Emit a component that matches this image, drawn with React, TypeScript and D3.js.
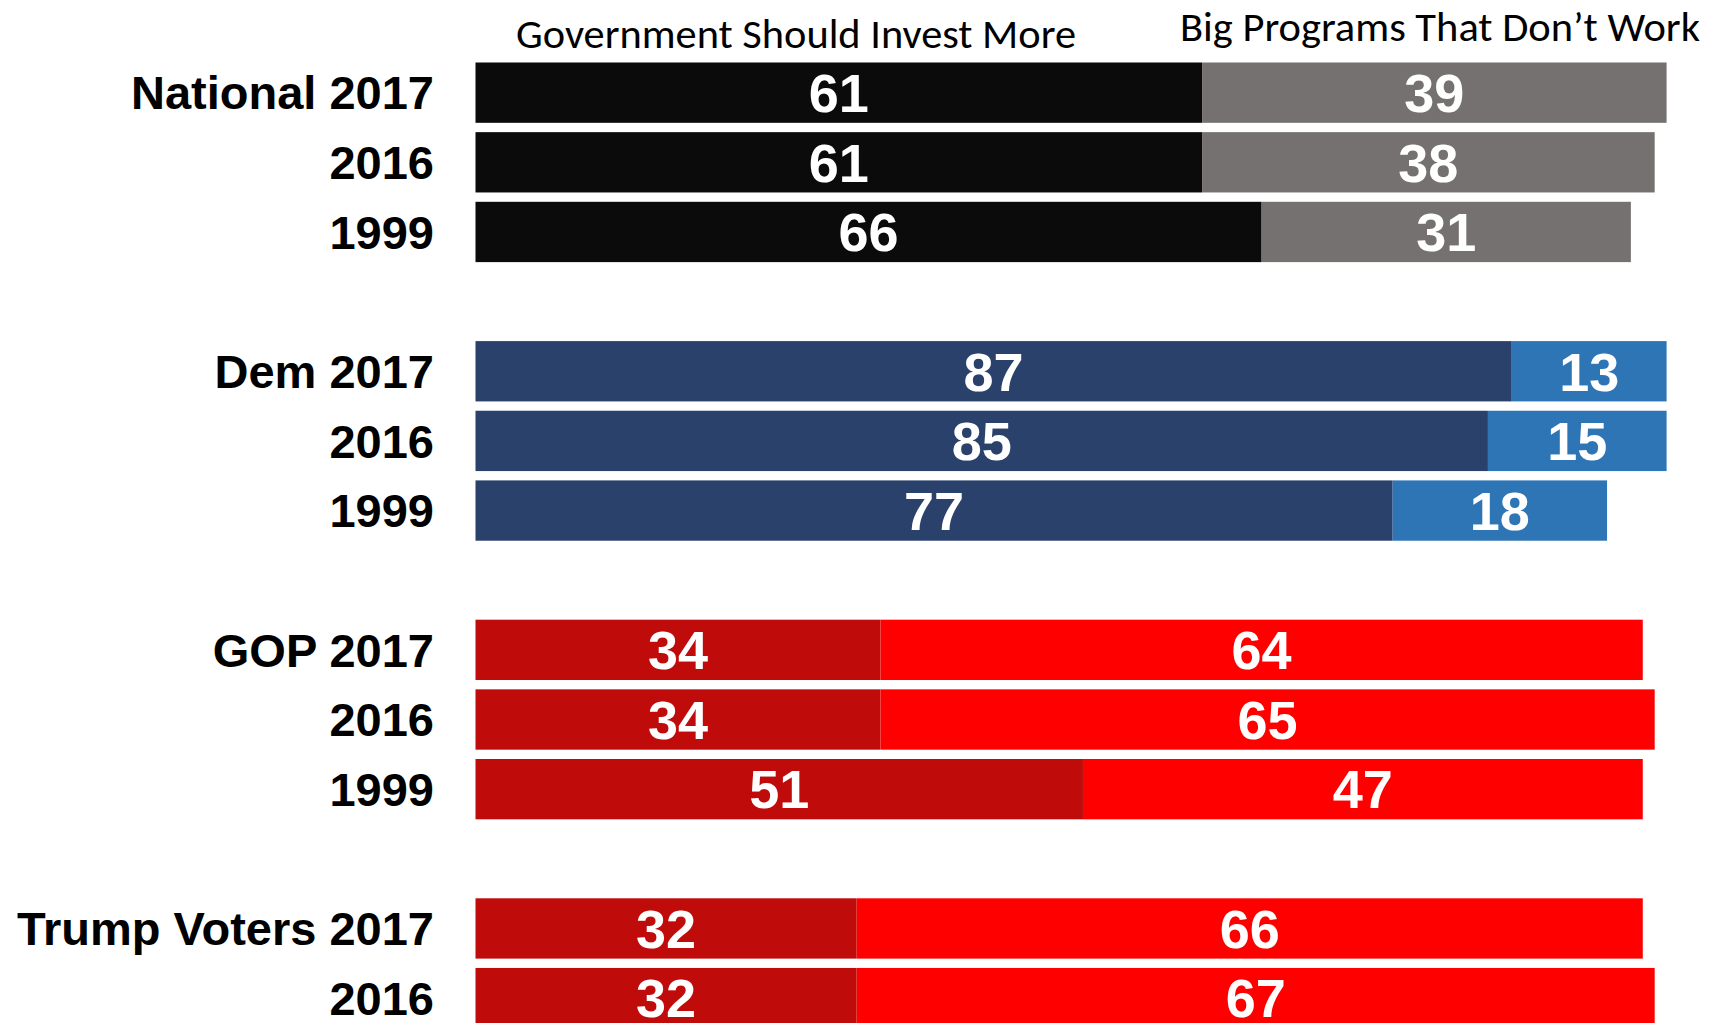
import * as d3 from 'd3';

// rows, top to bottom
const rowLabels = [
  'National 2017', '2016', '1999',
  'Dem 2017', '2016', '1999',
  'GOP 2017', '2016', '1999',
  'Trump Voters 2017', '2016',
];
const rowGroup = [0, 0, 0, 1, 1, 1, 2, 2, 2, 3, 3];

// Government should invest more / big programs that don't work (%)
const investMore = [61, 61, 66, 87, 85, 77, 34, 34, 51, 32, 32];
const bigPrograms = [39, 38, 31, 13, 15, 18, 64, 65, 47, 66, 67];

const headers = ['Government Should Invest More', 'Big Programs That Don\u2019t Work'];

// colours per group: [invest, programs]
const groupColors = [
  ['#0b0b0b', '#767171'],
  ['#2a416c', '#2e75b6'],
  ['#c00b0b', '#ff0000'],
  ['#c00b0b', '#ff0000'],
];

const W = 1718;
const H = 1023;

export default function App() {
  // each group gets a blank slot after it, so build slot keys
  const slots: string[] = [];
  rowGroup.forEach((g, i) => {
    if (i > 0 && rowGroup[i - 1] !== g) slots.push(`gap-${g}`);
    slots.push(`row-${i}`);
  });

  const step = 69.65;
  const pad = 0.134;
  const top = 62.5;
  const y = d3.scaleBand<string>()
    .domain(slots)
    .range([top, top + step * (slots.length - pad)])
    .paddingInner(pad)
    .paddingOuter(0);

  const x = d3.scaleLinear().domain([0, 100]).range([475.5, 1666.6]);

  const bh = y.bandwidth();
  const labelFs = 47;
  const valueFs = 54;
  const font = '"Liberation Sans", Arial, sans-serif';
  const headFont = 'Carlito, Calibri, "Open Sans", sans-serif';

  return (
    <svg
      width={W}
      height={H}
      style={{ position: 'absolute', left: 0, top: 0, background: '#fff' }}
    >
      <text
        x={516}
        y={47.5}
        fontFamily={headFont}
        fontSize={42}
        textLength={560}
        lengthAdjust="spacingAndGlyphs"
        fill="#000"
      >
        {headers[0]}
      </text>
      <text
        x={1180}
        y={41}
        fontFamily={headFont}
        fontSize={42}
        textLength={520}
        lengthAdjust="spacingAndGlyphs"
        fill="#000"
      >
        {headers[1]}
      </text>

      {rowLabels.map((lab, i) => {
        const y0 = y(`row-${i}`)!;
        const cy = y0 + bh / 2;
        const [c1, c2] = groupColors[rowGroup[i]];
        const a = investMore[i];
        const b = bigPrograms[i];
        return (
          <g key={i}>
            <text
              x={434}
              y={cy + labelFs * 0.358}
              textAnchor="end"
              fontFamily={font}
              fontWeight="bold"
              fontSize={labelFs}
              fill="#000"
            >
              {lab}
            </text>
            <rect x={x(0)} y={y0} width={x(a) - x(0)} height={bh} fill={c1} />
            <rect x={x(a)} y={y0} width={x(a + b) - x(a)} height={bh} fill={c2} />
            <text
              x={(x(0) + x(a)) / 2}
              y={cy + valueFs * 0.358}
              textAnchor="middle"
              fontFamily={font}
              fontWeight="bold"
              fontSize={valueFs}
              fill="#fff"
            >
              {a}
            </text>
            <text
              x={(x(a) + x(a + b)) / 2}
              y={cy + valueFs * 0.358}
              textAnchor="middle"
              fontFamily={font}
              fontWeight="bold"
              fontSize={valueFs}
              fill="#fff"
            >
              {b}
            </text>
          </g>
        );
      })}
    </svg>
  );
}
